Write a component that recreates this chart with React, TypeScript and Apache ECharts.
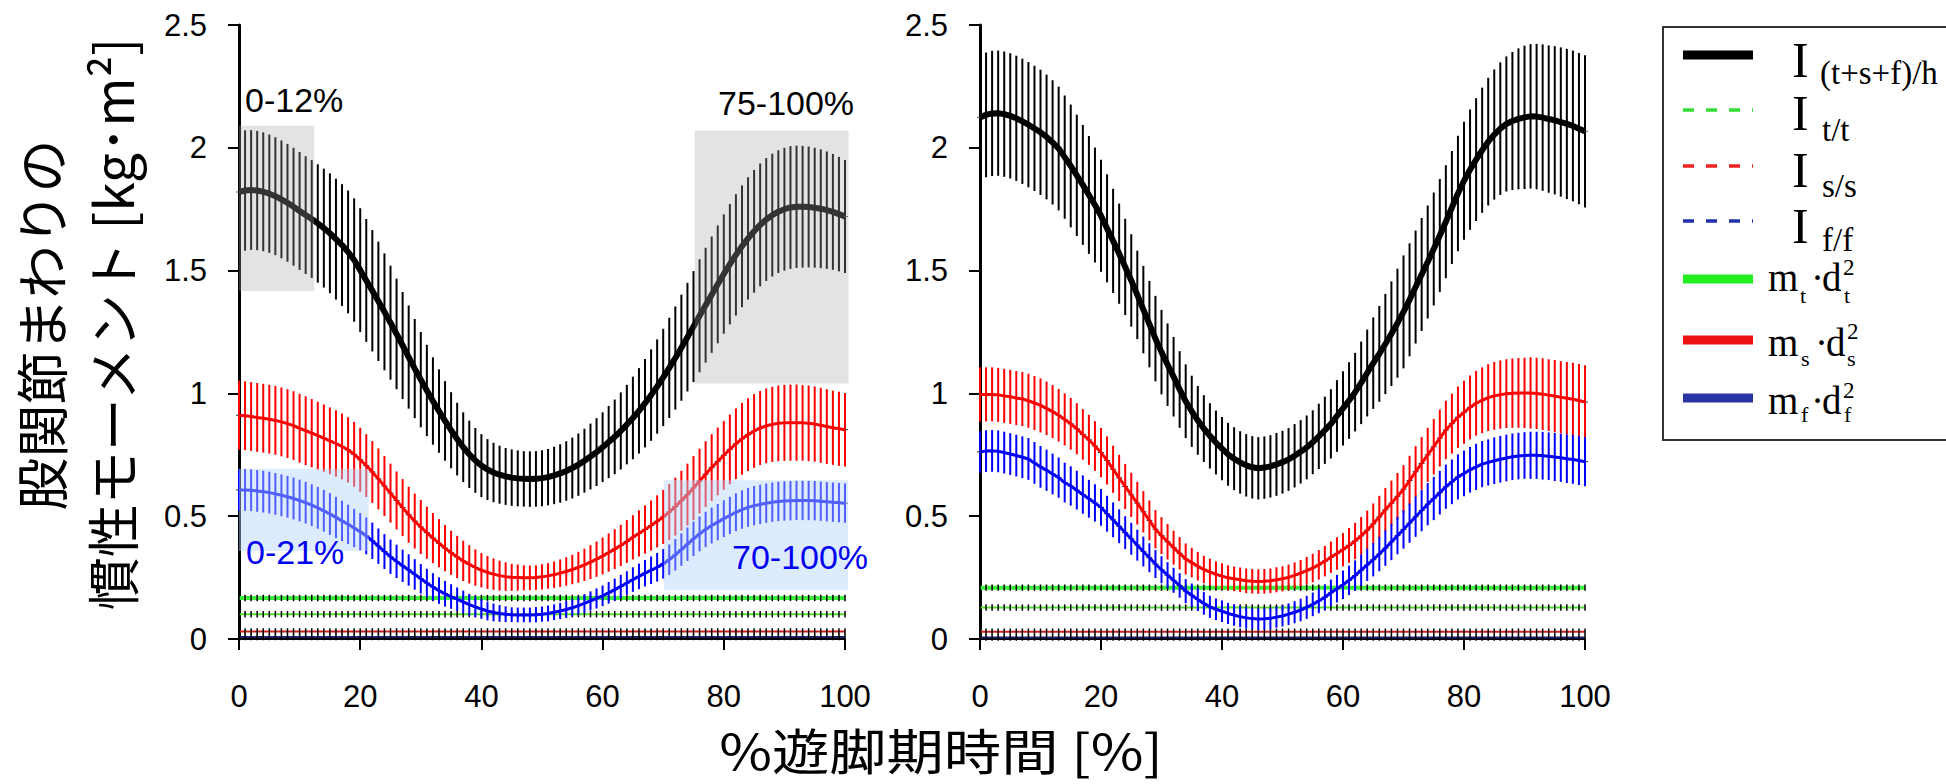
import React, { useEffect, useRef } from "react";
import * as echarts from "echarts";

// % swing phase, 0..100 in 1% steps
const PCT: number[] = Array.from({ length: 101 }, (_, i) => i);

const X_TICKS = [0, 20, 40, 60, 80, 100];
const Y_TICKS = [0, 0.5, 1, 1.5, 2, 2.5];

// ---- Left panel ----
const LEFT_TOTAL = [1.820,1.826,1.828,1.826,1.821,1.813,1.803,1.790,1.776,1.760,
1.743,1.726,1.710,1.692,1.673,1.652,1.628,1.604,1.576,1.543,
1.502,1.460,1.418,1.375,1.332,1.288,1.242,1.195,1.148,1.101,
1.056,1.012,0.969,0.928,0.888,0.850,0.814,0.781,0.752,0.727,
0.706,0.690,0.678,0.669,0.662,0.657,0.654,0.652,0.651,0.652,
0.655,0.659,0.666,0.674,0.684,0.696,0.710,0.726,0.743,0.761,
0.781,0.802,0.823,0.847,0.873,0.900,0.929,0.960,0.993,1.028,
1.065,1.104,1.144,1.186,1.229,1.272,1.316,1.359,1.402,1.444,
1.486,1.526,1.564,1.599,1.631,1.660,1.686,1.708,1.726,1.740,
1.750,1.757,1.760,1.760,1.759,1.756,1.752,1.746,1.739,1.730,
1.720];
const LEFT_TOTAL_SD = [0.245,0.245,0.244,0.243,0.242,0.241,0.240,0.240,0.240,0.240,
0.240,0.240,0.240,0.241,0.242,0.244,0.246,0.248,0.250,0.251,
0.252,0.250,0.247,0.243,0.238,0.232,0.225,0.218,0.210,0.202,
0.194,0.186,0.178,0.170,0.162,0.155,0.148,0.142,0.137,0.132,
0.128,0.124,0.121,0.118,0.116,0.115,0.114,0.113,0.113,0.113,
0.114,0.115,0.117,0.119,0.121,0.124,0.127,0.130,0.134,0.138,
0.142,0.147,0.152,0.157,0.162,0.168,0.174,0.180,0.186,0.192,
0.198,0.204,0.210,0.216,0.221,0.226,0.230,0.234,0.237,0.240,
0.243,0.245,0.247,0.248,0.249,0.250,0.250,0.250,0.250,0.250,
0.250,0.250,0.249,0.248,0.246,0.244,0.242,0.239,0.236,0.233,
0.230];
const LEFT_SHANK = [0.911,0.909,0.906,0.902,0.899,0.895,0.890,0.884,0.877,0.869,
0.858,0.848,0.838,0.828,0.818,0.807,0.796,0.784,0.770,0.752,
0.730,0.706,0.680,0.652,0.623,0.594,0.564,0.535,0.506,0.480,
0.456,0.433,0.411,0.390,0.370,0.351,0.334,0.318,0.304,0.291,
0.280,0.271,0.264,0.258,0.254,0.251,0.250,0.249,0.249,0.250,
0.253,0.257,0.262,0.268,0.275,0.283,0.292,0.302,0.313,0.325,
0.338,0.352,0.366,0.381,0.397,0.414,0.430,0.446,0.462,0.479,
0.497,0.517,0.539,0.563,0.588,0.615,0.643,0.671,0.698,0.723,
0.748,0.772,0.795,0.815,0.832,0.847,0.859,0.868,0.874,0.878,
0.880,0.881,0.881,0.880,0.878,0.875,0.870,0.865,0.860,0.856,
0.852];
const LEFT_SHANK_SD = [0.140,0.140,0.140,0.140,0.140,0.140,0.140,0.140,0.140,0.140,
0.140,0.140,0.139,0.138,0.137,0.136,0.135,0.134,0.133,0.132,
0.130,0.128,0.126,0.124,0.122,0.120,0.118,0.116,0.114,0.112,
0.110,0.106,0.102,0.098,0.094,0.090,0.086,0.082,0.078,0.074,
0.070,0.067,0.064,0.061,0.058,0.055,0.053,0.051,0.050,0.050,
0.051,0.052,0.054,0.056,0.058,0.060,0.063,0.066,0.069,0.072,
0.075,0.078,0.081,0.084,0.087,0.090,0.094,0.098,0.102,0.106,
0.110,0.114,0.118,0.122,0.126,0.130,0.132,0.134,0.136,0.138,
0.140,0.142,0.144,0.146,0.148,0.150,0.151,0.152,0.153,0.154,
0.155,0.155,0.155,0.154,0.154,0.153,0.153,0.152,0.151,0.151,
0.150];
const LEFT_FOOT = [0.607,0.607,0.606,0.603,0.600,0.596,0.591,0.585,0.579,0.572,
0.564,0.555,0.545,0.534,0.522,0.509,0.495,0.481,0.467,0.452,
0.437,0.420,0.400,0.378,0.356,0.335,0.316,0.298,0.281,0.263,
0.245,0.228,0.212,0.197,0.184,0.173,0.162,0.151,0.140,0.131,
0.122,0.114,0.108,0.104,0.101,0.099,0.098,0.098,0.098,0.099,
0.101,0.104,0.109,0.114,0.120,0.127,0.136,0.145,0.155,0.165,
0.176,0.188,0.201,0.214,0.228,0.242,0.255,0.268,0.280,0.292,
0.306,0.323,0.343,0.364,0.386,0.408,0.428,0.446,0.462,0.476,
0.490,0.503,0.516,0.527,0.536,0.543,0.548,0.553,0.557,0.560,
0.562,0.563,0.564,0.564,0.564,0.563,0.561,0.559,0.557,0.555,
0.553];
const LEFT_FOOT_SD = [0.085,0.085,0.085,0.085,0.085,0.085,0.085,0.085,0.085,0.085,
0.085,0.085,0.085,0.085,0.085,0.085,0.084,0.082,0.080,0.078,
0.076,0.075,0.074,0.072,0.071,0.070,0.068,0.066,0.064,0.062,
0.060,0.058,0.056,0.054,0.052,0.050,0.048,0.046,0.044,0.042,
0.040,0.038,0.036,0.034,0.032,0.030,0.030,0.030,0.030,0.031,
0.031,0.032,0.032,0.033,0.034,0.035,0.036,0.038,0.039,0.041,
0.042,0.044,0.045,0.047,0.048,0.050,0.052,0.054,0.056,0.058,
0.060,0.062,0.064,0.066,0.068,0.070,0.071,0.072,0.073,0.074,
0.075,0.076,0.077,0.078,0.079,0.080,0.080,0.080,0.080,0.080,
0.080,0.080,0.080,0.080,0.080,0.080,0.080,0.080,0.080,0.080,
0.080];
// constant terms: [m_t·d_t², I_t/t, I_s/s, I_f/f]
const LEFT_CONST = [0.167, 0.101, 0.031, 0.008];

// ---- Right panel ----
const RIGHT_TOTAL = [2.124,2.134,2.140,2.141,2.137,2.130,2.120,2.108,2.094,2.079,
2.063,2.044,2.022,1.997,1.962,1.926,1.888,1.849,1.808,1.767,
1.723,1.672,1.621,1.569,1.515,1.460,1.401,1.341,1.282,1.223,
1.168,1.117,1.068,1.016,0.968,0.927,0.890,0.857,0.827,0.800,
0.775,0.752,0.734,0.719,0.707,0.699,0.695,0.698,0.703,0.711,
0.720,0.731,0.746,0.762,0.780,0.801,0.825,0.850,0.876,0.908,
0.939,0.971,1.005,1.043,1.083,1.123,1.161,1.201,1.243,1.286,
1.332,1.381,1.433,1.484,1.535,1.588,1.643,1.699,1.757,1.814,
1.866,1.911,1.952,1.990,2.025,2.054,2.078,2.097,2.109,2.118,
2.124,2.128,2.127,2.123,2.117,2.112,2.105,2.097,2.089,2.078,
2.067];
const RIGHT_TOTAL_SD = [0.254,0.254,0.255,0.255,0.255,0.255,0.255,0.255,0.255,0.255,
0.255,0.254,0.253,0.252,0.251,0.250,0.247,0.244,0.240,0.234,
0.228,0.220,0.212,0.204,0.196,0.188,0.180,0.178,0.176,0.174,
0.172,0.168,0.162,0.156,0.150,0.145,0.140,0.136,0.133,0.130,
0.129,0.128,0.128,0.127,0.127,0.127,0.127,0.127,0.127,0.128,
0.128,0.128,0.129,0.129,0.130,0.130,0.133,0.137,0.141,0.146,
0.151,0.156,0.160,0.168,0.177,0.186,0.195,0.204,0.213,0.222,
0.230,0.230,0.230,0.230,0.230,0.230,0.230,0.230,0.230,0.235,
0.240,0.245,0.250,0.255,0.260,0.265,0.270,0.275,0.281,0.287,
0.292,0.294,0.296,0.298,0.300,0.302,0.304,0.306,0.307,0.308,
0.310];
const RIGHT_SHANK = [0.996,0.996,0.996,0.994,0.990,0.986,0.981,0.977,0.970,0.961,
0.951,0.939,0.926,0.911,0.894,0.876,0.856,0.833,0.811,0.786,
0.759,0.727,0.691,0.656,0.621,0.587,0.553,0.518,0.483,0.447,
0.421,0.396,0.372,0.349,0.326,0.311,0.296,0.283,0.273,0.263,
0.256,0.249,0.245,0.241,0.237,0.235,0.234,0.235,0.237,0.241,
0.245,0.251,0.259,0.268,0.278,0.289,0.302,0.317,0.333,0.348,
0.364,0.381,0.399,0.420,0.443,0.469,0.497,0.526,0.553,0.581,
0.610,0.645,0.681,0.715,0.750,0.783,0.818,0.851,0.877,0.903,
0.923,0.943,0.960,0.972,0.983,0.990,0.995,0.999,1.001,1.002,
1.002,1.002,1.000,0.997,0.993,0.989,0.984,0.980,0.976,0.971,
0.965];
const RIGHT_SHANK_SD = [0.110,0.110,0.110,0.110,0.110,0.110,0.110,0.110,0.110,0.110,
0.110,0.109,0.108,0.107,0.106,0.105,0.104,0.103,0.102,0.101,
0.100,0.098,0.096,0.094,0.092,0.090,0.087,0.084,0.081,0.078,
0.075,0.072,0.069,0.066,0.063,0.060,0.058,0.056,0.054,0.053,
0.052,0.051,0.050,0.050,0.050,0.050,0.050,0.050,0.050,0.051,
0.051,0.052,0.053,0.054,0.056,0.058,0.060,0.062,0.064,0.066,
0.068,0.071,0.074,0.077,0.080,0.083,0.086,0.089,0.092,0.095,
0.098,0.101,0.104,0.107,0.110,0.113,0.116,0.119,0.122,0.125,
0.128,0.130,0.132,0.134,0.136,0.138,0.139,0.140,0.141,0.142,
0.143,0.145,0.145,0.146,0.146,0.147,0.147,0.148,0.149,0.149,
0.150];
const RIGHT_FOOT = [0.762,0.765,0.766,0.764,0.759,0.753,0.747,0.740,0.733,0.717,
0.701,0.687,0.672,0.657,0.637,0.623,0.606,0.588,0.571,0.554,
0.536,0.510,0.485,0.459,0.433,0.408,0.382,0.356,0.331,0.305,
0.282,0.260,0.239,0.218,0.195,0.178,0.161,0.145,0.131,0.121,
0.113,0.104,0.097,0.091,0.086,0.083,0.081,0.082,0.084,0.089,
0.094,0.101,0.109,0.118,0.129,0.141,0.155,0.170,0.188,0.205,
0.221,0.239,0.258,0.280,0.302,0.323,0.346,0.370,0.395,0.421,
0.446,0.472,0.498,0.523,0.549,0.572,0.596,0.620,0.640,0.660,
0.674,0.689,0.701,0.712,0.719,0.726,0.732,0.737,0.742,0.745,
0.747,0.748,0.748,0.746,0.744,0.741,0.738,0.734,0.731,0.727,
0.722];
const RIGHT_FOOT_SD = [0.085,0.085,0.085,0.085,0.085,0.085,0.085,0.085,0.085,0.085,
0.085,0.084,0.083,0.082,0.081,0.080,0.079,0.078,0.077,0.076,
0.075,0.073,0.071,0.069,0.067,0.065,0.063,0.061,0.059,0.057,
0.055,0.053,0.051,0.050,0.049,0.048,0.047,0.046,0.045,0.044,
0.044,0.043,0.043,0.043,0.043,0.043,0.043,0.043,0.043,0.043,
0.043,0.044,0.045,0.046,0.047,0.048,0.050,0.052,0.054,0.056,
0.058,0.060,0.062,0.064,0.066,0.068,0.070,0.072,0.074,0.076,
0.078,0.080,0.082,0.084,0.086,0.088,0.089,0.090,0.091,0.092,
0.093,0.093,0.094,0.094,0.094,0.095,0.095,0.095,0.095,0.095,
0.095,0.096,0.096,0.097,0.097,0.098,0.098,0.099,0.099,0.100,
0.100];
const RIGHT_CONST = [0.209, 0.128, 0.030, 0.006];
const CONST_SD = [0.013, 0.013, 0.013, 0.013];

// highlighted phases in left panel: [x0, x1, yLow, yHigh]
const GRAY_REGIONS = [[0, 12.4, 1.417, 2.09], [75.2, 100.6, 1.04, 2.07]];
const BLUE_REGIONS = [[0, 21.4, 0.358, 0.693], [70.1, 100.5, 0.198, 0.646]];

const CONST_COLORS = ["#3cf03c", "#55e030", "#d02020", "#1c1c70"];
const CONST_WIDTHS = [4, 2, 2, 2];

const FONT_NUM = "Liberation Sans";
const FONT_JP = "Noto Sans CJK JP";
const FONT_SERIF = "Liberation Serif";

function errorBars(gi: number, mean: number[], sd: number[], color: string, width: number, z: number, capColor: string | null) {
  return {
    type: "custom",
    xAxisIndex: gi,
    yAxisIndex: gi,
    z,
    silent: true,
    data: PCT.map((x, i) => [x, mean[i] - sd[i], mean[i] + sd[i], mean[i]]),
    encode: { x: 0, y: [1, 2] },
    renderItem: (_p: any, api: any) => {
      const x = api.value(0);
      const lo = api.coord([x, api.value(1)]);
      const hi = api.coord([x, api.value(2)]);
      const m = api.coord([x, api.value(3)]);
      const children: any[] = [
        { type: "line", shape: { x1: lo[0], y1: lo[1], x2: hi[0], y2: hi[1] }, style: { stroke: color, lineWidth: width } },
      ];
      if (capColor) {
        children.push({ type: "line", shape: { x1: m[0] - 3, y1: m[1], x2: m[0] + 3, y2: m[1] }, style: { stroke: capColor, lineWidth: 1 } });
      }
      return { type: "group", children };
    },
  };
}

function lineSeries(gi: number, values: number[], color: string, width: number, z: number) {
  return {
    type: "line",
    xAxisIndex: gi,
    yAxisIndex: gi,
    z,
    silent: true,
    symbol: "none",
    showSymbol: false,
    data: PCT.map((x, i) => [x, values[i]]),
    lineStyle: { color, width },
    itemStyle: { color },
  };
}

function regionSeries(regions: number[][], fill: string, z: number) {
  return {
    type: "custom",
    xAxisIndex: 0,
    yAxisIndex: 0,
    z,
    silent: true,
    data: regions,
    encode: { x: [0, 1], y: [2, 3] },
    renderItem: (_p: any, api: any) => {
      const a = api.coord([api.value(0), api.value(3)]);
      const b = api.coord([api.value(1), api.value(2)]);
      return { type: "rect", shape: { x: a[0], y: a[1], width: b[0] - a[0], height: b[1] - a[1] }, style: { fill } };
    },
  };
}

function panelSeries(gi: number, total: number[], totalSd: number[], shank: number[], shankSd: number[], foot: number[], footSd: number[], consts: number[]) {
  const s: any[] = [];
  consts.forEach((c, k) => {
    const vals = PCT.map(() => c);
    const sds = PCT.map(() => CONST_SD[k]);
    s.push(lineSeries(gi, vals, CONST_COLORS[k], CONST_WIDTHS[k], 2));
    s.push(errorBars(gi, vals, sds, "#000", 1.5, 3, null));
  });
  s.push(errorBars(gi, total, totalSd, "#000", 2, 4, "#555"));
  s.push(lineSeries(gi, total, "#000", 6, 5));
  s.push(errorBars(gi, shank, shankSd, "#ff0000", 2, 6, "#333"));
  s.push(lineSeries(gi, shank, "#ff0000", 3, 7));
  s.push(errorBars(gi, foot, footSd, "#0000ff", 2, 8, "#333"));
  s.push(lineSeries(gi, foot, "#0000ff", 3, 9));
  return s;
}

function axes(gi: number) {
  const x = {
    type: "value",
    gridIndex: gi,
    min: X_TICKS[0],
    max: X_TICKS[X_TICKS.length - 1],
    interval: X_TICKS[1] - X_TICKS[0],
    axisLine: { show: true, onZero: false, lineStyle: { color: "#000", width: 2 } },
    axisTick: { show: true, length: 11, lineStyle: { color: "#000", width: 2 } },
    axisLabel: { color: "#000", fontSize: 31, fontFamily: FONT_NUM, margin: 42 },
    splitLine: { show: false },
  };
  const y = {
    type: "value",
    gridIndex: gi,
    min: Y_TICKS[0],
    max: Y_TICKS[Y_TICKS.length - 1],
    interval: Y_TICKS[1] - Y_TICKS[0],
    axisLine: { show: true, lineStyle: { color: "#000", width: 3 } },
    axisTick: { show: true, length: 11, lineStyle: { color: "#000", width: 2 } },
    axisLabel: { color: "#000", fontSize: 31, fontFamily: FONT_NUM, margin: 32 },
    splitLine: { show: false },
  };
  return { x, y };
}

function txt(text: string, x: number, y: number, font: string, fill = "#000", align = "left", extra: any = {}, lineHeight?: number) {
  const style: any = { text, x: 0, y: 0, font, fill, textAlign: align, textVerticalAlign: "middle", align, verticalAlign: "middle" };
  if (lineHeight) style.lineHeight = lineHeight;
  return {
    type: "text",
    x,
    y,
    z: 100,
    silent: true,
    ...extra,
    style,
  };
}

function hline(x1: number, x2: number, y: number, stroke: string, lineWidth: number, dash?: number[]) {
  return {
    type: "line",
    z: 100,
    silent: true,
    shape: { x1, y1: y, x2, y2: y },
    style: { stroke, lineWidth, lineDash: dash || null },
  };
}

export default function App() {
  const ref = useRef<HTMLDivElement>(null);
  useEffect(() => {
    if (!ref.current) return;
    const chart = echarts.init(ref.current, null, { renderer: "svg" });
    const a0 = axes(0);
    const a1 = axes(1);
    const serif = (s: number) => `normal ${s}px "${FONT_SERIF}"`;
    const legendLeft = 1683;
    const legendRight = 1753;
    const graphic: any[] = [
      // axis titles
      txt("股関節まわりの", 40, 325, `normal 53px "${FONT_JP}"`, "#000", "center", { rotation: Math.PI / 2 }),
      txt("慣性モーメント [kg･m²]", 111, 324, `normal 53px "${FONT_JP}"`, "#000", "center", { rotation: Math.PI / 2 }),
      txt("%遊脚期時間 [%]", 941, 748, `normal 49px "${FONT_JP}"`, "#000", "center", { scaleX: 1.17 }, 49),
      // phase annotations
      txt("0-12%", 245, 100, `normal 34px "${FONT_NUM}"`, "#000"),
      txt("75-100%", 718, 103, `normal 34px "${FONT_NUM}"`, "#000"),
      txt("0-21%", 246, 552, `normal 34px "${FONT_NUM}"`, "#0000ee"),
      txt("70-100%", 732, 557, `normal 34px "${FONT_NUM}"`, "#0000ee"),
      // legend box
      {
        type: "rect",
        z: 99,
        silent: true,
        shape: { x: 1663, y: 27, width: 320, height: 413 },
        style: { fill: "#fff", stroke: "#333", lineWidth: 2 },
      },
      hline(legendLeft, legendRight, 55, "#000", 9),
      hline(legendLeft, legendRight, 110, "#33dd33", 3.5, [11, 12]),
      hline(legendLeft, legendRight, 166, "#ee2222", 3.5, [11, 12]),
      hline(legendLeft, legendRight, 221, "#2233aa", 3.5, [11, 12]),
      hline(legendLeft, legendRight, 279, "#22ee22", 9),
      hline(legendLeft, legendRight, 340, "#ee1111", 9),
      hline(legendLeft, legendRight, 398, "#2a35a5", 9),
      txt("I", 1792, 60, serif(50)),
      txt("(t+s+f)/h", 1820, 73, serif(33)),
      txt("I", 1792, 113, serif(50)),
      txt("t/t", 1822, 130, serif(33)),
      txt("I", 1792, 170, serif(50)),
      txt("s/s", 1822, 186, serif(33)),
      txt("I", 1792, 226, serif(50)),
      txt("f/f", 1822, 240, serif(33)),
      // m_t · d_t^2
      txt("m", 1768, 277, serif(39)),
      txt("t", 1800, 295, serif(22)),
      txt("·", 1811, 277, serif(39)),
      txt("d", 1822, 277, serif(39)),
      txt("2", 1843, 267, serif(23)),
      txt("t", 1844, 295, serif(22)),
      // m_s · d_s^2
      txt("m", 1768, 342, serif(39)),
      txt("s", 1801, 358, serif(22)),
      txt("·", 1815, 342, serif(39)),
      txt("d", 1826, 342, serif(39)),
      txt("2", 1847, 331, serif(23)),
      txt("s", 1847, 358, serif(22)),
      // m_f · d_f^2
      txt("m", 1768, 400, serif(39)),
      txt("f", 1801, 414, serif(22)),
      txt("·", 1811, 400, serif(39)),
      txt("d", 1822, 400, serif(39)),
      txt("2", 1843, 390, serif(23)),
      txt("f", 1844, 414, serif(22)),
    ];

    const series: any[] = [
      ...panelSeries(0, LEFT_TOTAL, LEFT_TOTAL_SD, LEFT_SHANK, LEFT_SHANK_SD, LEFT_FOOT, LEFT_FOOT_SD, LEFT_CONST),
      ...panelSeries(1, RIGHT_TOTAL, RIGHT_TOTAL_SD, RIGHT_SHANK, RIGHT_SHANK_SD, RIGHT_FOOT, RIGHT_FOOT_SD, RIGHT_CONST),
      regionSeries(GRAY_REGIONS, "rgba(165,165,165,0.31)", 30),
      regionSeries(BLUE_REGIONS, "rgba(178,211,253,0.45)", 31),
    ];

    chart.setOption({
      animation: false,
      backgroundColor: "#fff",
      grid: [
        { left: 239, top: 25, width: 606, height: 614 },
        { left: 980, top: 25, width: 605, height: 614 },
      ],
      xAxis: [a0.x, a1.x],
      yAxis: [a0.y, a1.y],
      series,
      graphic,
    });
    return () => chart.dispose();
  }, []);
  return <div ref={ref} style={{ position: "absolute", left: 0, top: 0, width: 1946, height: 784 }} />;
}
